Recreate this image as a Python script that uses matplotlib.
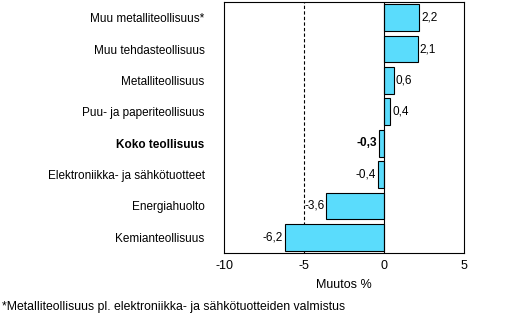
import matplotlib
matplotlib.use("Agg")
import matplotlib.pyplot as plt

categories = ["Muu metalliteollisuus*", "Muu tehdasteollisuus", "Metalliteollisuus",
              "Puu- ja paperiteollisuus", "Koko teollisuus",
              "Elektroniikka- ja sähkötuotteet", "Energiahuolto", "Kemianteollisuus"]
values = [2.2, 2.1, 0.6, 0.4, -0.3, -0.4, -3.6, -6.2]
labels = ["2,2", "2,1", "0,6", "0,4", "-0,3", "-0,4", "-3,6", "-6,2"]
xticks = [-10, -5, 0, 5]
bold_index = 4

plt.rcParams['font.family'] = ['Liberation Sans', 'DejaVu Sans']
fig = plt.figure(figsize=(5.25, 3.17), dpi=100)
ax = fig.add_axes([224/525, 1 - 253/317, 240/525, 251/317])

n = len(categories)
ypos = list(range(n))[::-1]
ax.barh(ypos, values, height=0.85, color='#5adcfc', edgecolor='black', linewidth=0.8, zorder=3)
ax.set_xlim(-10, 5)
ax.set_ylim(-0.5, n - 0.5)
ax.axvline(0, color='black', linewidth=0.8, zorder=4)
ax.axvline(-5, color='black', linewidth=0.8, linestyle=(0, (3, 2)), zorder=2)

for y, v, lab, i in zip(ypos, values, labels, range(n)):
    w = 'bold' if i == bold_index else 'normal'
    if v >= 0:
        ax.text(v + 0.12, y, lab, ha='left', va='center', fontsize=8.5, fontweight=w)
    else:
        ax.text(v - 0.12, y, lab, ha='right', va='center', fontsize=8.5, fontweight=w)

ax.set_yticks(ypos)
ax.set_yticklabels(categories, fontsize=8.5)
for i, t in enumerate(ax.get_yticklabels()):
    if i == bold_index:
        t.set_fontweight('bold')
ax.set_xticks(xticks)
ax.set_xticklabels([str(t) for t in xticks], fontsize=9)
ax.tick_params(axis='y', length=0, pad=14)
ax.tick_params(axis='x', length=0, pad=5)
ax.set_xlabel("Muutos %", fontsize=9, labelpad=5)
for s in ax.spines.values():
    s.set_linewidth(0.8)

fig.text(2/525, 1 - 307/317, "*Metalliteollisuus pl. elektroniikka- ja sähkötuotteiden valmistus",
         fontsize=8.8, ha='left', va='center')

fig.savefig("out.png", dpi=100)
